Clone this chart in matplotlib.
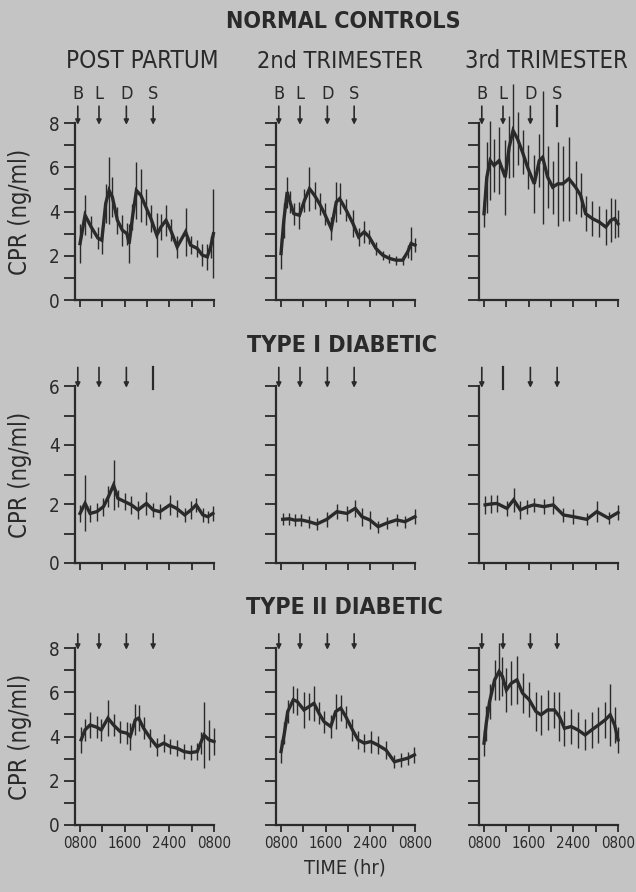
import numpy as np
import matplotlib
matplotlib.use('Agg')
import matplotlib.pyplot as plt
import matplotlib.font_manager as fm

# the original uses a condensed grotesque; take a condensed face if one is installed
FAMILY, STRETCH = 'Roboto', 'normal'
_cond = [f for f in fm.fontManager.ttflist
         if str(f.stretch) in ('condensed', 'semi-condensed', 'extra-condensed') and f.style == 'normal']
for _name in ['DejaVu Sans', 'Liberation Sans Narrow', 'Noto Sans', 'Open Sans', 'Roboto Condensed', 'Roboto']:
  _hit = [f for f in _cond if f.name == _name]
  if _hit:
    FAMILY, STRETCH = _name, str(_hit[0].stretch)
    break
plt.rcParams['font.family'] = [FAMILY, 'DejaVu Sans']
plt.rcParams['font.stretch'] = STRETCH

BG = '#c4c4c4'
INK = '#2a2a2a'

# ---- data: hours after 0800, mean CPR (ng/ml), error bar half-length ----
# normal controls
pp_hours = [0, 0.9, 2.0, 3.2, 3.9, 4.6, 5.2, 5.8, 6.7, 7.6, 8.4, 8.8, 9.4, 10.1, 10.9, 11.8, 12.7, 13.75, 14.5, 15.4, 16.25, 17.4, 18.9, 19.8, 21.0, 21.9, 22.8, 23.4, 23.9]
pp_mean = [2.55, 3.83, 3.3, 2.8, 2.7, 4.36, 4.95, 4.65, 3.6, 3.15, 3.0, 2.55, 3.75, 4.95, 4.73, 4.2, 3.68, 2.93, 3.3, 3.6, 3.15, 2.4, 3.08, 2.48, 2.33, 2.03, 1.95, 2.4, 3.0]
pp_sem = [0.9, 0.9, 0.5, 0.5, 0.6, 0.9, 1.5, 0.9, 0.6, 0.7, 0.5, 0.9, 0.6, 1.3, 1.2, 0.8, 0.6, 1.0, 0.6, 0.7, 0.5, 0.5, 1.1, 0.4, 0.4, 0.5, 0.6, 0.5, 2.0]

t2_hours = [0, 0.5, 1.1, 1.6, 2.3, 3.3, 4.2, 5.1, 6.0, 6.9, 7.8, 9.0, 9.9, 10.5, 11.7, 12.9, 13.9, 14.9, 15.8, 17.0, 18.2, 19.4, 20.6, 21.8, 22.7, 23.3, 24.0]
t2_mean = [2.1, 3.6, 4.88, 4.43, 3.9, 3.83, 4.5, 5.03, 4.73, 4.35, 3.9, 3.23, 4.43, 4.58, 4.05, 3.45, 2.85, 3.08, 2.85, 2.33, 2.03, 1.88, 1.8, 1.8, 2.18, 2.55, 2.48]
t2_sem = [0.7, 0.8, 0.7, 0.5, 0.5, 0.6, 0.5, 1.0, 0.6, 0.5, 0.5, 0.5, 0.9, 0.7, 0.5, 0.6, 0.4, 0.5, 0.3, 0.3, 0.2, 0.2, 0.2, 0.2, 0.3, 0.75, 0.3]

t3_hours = [0, 0.5, 1.1, 1.8, 2.7, 3.8, 4.5, 5.2, 6.0, 6.9, 7.8, 9.0, 9.9, 10.5, 11.4, 12.3, 13.2, 14.1, 15.2, 16.4, 17.3, 18.2, 19.4, 20.6, 21.8, 22.7, 23.4, 24.0]
t3_mean = [3.9, 5.55, 6.3, 6.08, 6.3, 5.55, 6.9, 7.66, 7.28, 6.68, 6.0, 5.25, 6.3, 6.45, 5.55, 5.1, 5.25, 5.25, 5.48, 5.1, 4.73, 3.9, 3.68, 3.53, 3.3, 3.6, 3.68, 3.45]
t3_sem = [0.6, 1.6, 1.8, 1.2, 1.5, 1.7, 1.4, 2.1, 1.2, 1.0, 1.0, 1.3, 1.2, 3.0, 1.4, 1.2, 1.9, 1.7, 1.9, 1.2, 1.0, 0.8, 0.8, 0.7, 0.8, 1.0, 0.9, 0.6]

# type I diabetic
d1pp_hours = [0, 0.9, 1.8, 3.0, 4.2, 5.1, 6.0, 6.8, 8.0, 9.2, 10.4, 11.9, 13.1, 14.3, 16.1, 17.3, 18.75, 19.9, 20.8, 22.0, 22.9, 23.8]
d1pp_mean = [1.68, 2.02, 1.68, 1.74, 1.91, 2.25, 2.64, 2.19, 2.08, 1.97, 1.8, 2.02, 1.8, 1.74, 1.97, 1.85, 1.63, 1.8, 1.97, 1.63, 1.57, 1.68]
d1pp_sem = [0.3, 0.95, 0.3, 0.3, 0.3, 0.35, 0.85, 0.3, 0.3, 0.3, 0.3, 0.4, 0.25, 0.25, 0.35, 0.3, 0.25, 0.3, 0.25, 0.25, 0.2, 0.25]

d1t2_hours = [0.3, 1.5, 2.5, 3.6, 5.0, 6.4, 8.2, 10.0, 11.8, 13.3, 14.5, 15.9, 17.4, 18.9, 20.7, 22.2, 24.0]
d1t2_mean = [1.48, 1.5, 1.45, 1.46, 1.4, 1.32, 1.48, 1.74, 1.68, 1.85, 1.57, 1.46, 1.23, 1.35, 1.46, 1.4, 1.57]
d1t2_sem = [0.2, 0.2, 0.2, 0.2, 0.2, 0.2, 0.25, 0.25, 0.25, 0.3, 0.3, 0.3, 0.2, 0.2, 0.2, 0.2, 0.25]

d1t3_hours = [0.2, 1.2, 2.3, 4.1, 5.3, 6.5, 7.7, 8.9, 10.7, 12.4, 14.2, 16.0, 18.4, 20.2, 22.3, 24.0]
d1t3_mean = [1.97, 2.0, 2.02, 1.85, 2.14, 1.8, 1.9, 1.97, 1.91, 1.97, 1.63, 1.57, 1.48, 1.74, 1.52, 1.71]
d1t3_sem = [0.3, 0.3, 0.3, 0.25, 0.4, 0.3, 0.25, 0.25, 0.25, 0.3, 0.25, 0.25, 0.2, 0.35, 0.2, 0.25]

# type II diabetic
d2pp_hours = [0.2, 0.9, 1.8, 3.0, 3.8, 5.0, 6.0, 7.2, 8.4, 9.0, 9.9, 10.5, 11.4, 12.6, 13.8, 15.0, 16.2, 17.4, 18.6, 19.8, 21.0, 21.6, 22.2, 23.1, 24.0]
d2pp_mean = [3.85, 4.3, 4.52, 4.42, 4.3, 4.83, 4.52, 4.22, 4.15, 4.0, 4.75, 4.83, 4.37, 3.92, 3.54, 3.7, 3.54, 3.47, 3.32, 3.27, 3.32, 3.7, 4.07, 3.85, 3.77]
d2pp_sem = [0.6, 0.5, 0.6, 0.5, 0.5, 0.8, 0.5, 0.5, 0.5, 0.6, 0.7, 0.6, 0.5, 0.4, 0.4, 0.4, 0.35, 0.35, 0.35, 0.35, 0.4, 0.5, 1.5, 0.9, 0.6]

d2t2_hours = [0, 0.6, 1.2, 2.2, 2.9, 4.1, 5.0, 5.9, 6.8, 7.7, 8.9, 9.8, 10.7, 11.6, 12.8, 13.8, 14.9, 16.1, 17.3, 18.8, 20.3, 21.5, 22.7, 23.9]
d2t2_mean = [3.32, 4.15, 5.13, 5.66, 5.58, 5.2, 5.35, 5.5, 5.05, 4.67, 4.45, 5.13, 5.28, 4.9, 4.3, 3.85, 3.7, 3.77, 3.62, 3.39, 2.86, 2.94, 3.02, 3.17]
d2t2_sem = [0.5, 0.5, 0.5, 0.6, 0.6, 0.8, 0.6, 0.8, 0.5, 0.5, 0.5, 0.8, 0.6, 0.5, 0.5, 0.4, 0.4, 0.5, 0.4, 0.4, 0.3, 0.3, 0.3, 0.35]

d2t3_hours = [0, 0.4, 1.0, 1.9, 2.7, 3.3, 4.0, 4.9, 5.9, 6.9, 8.1, 9.3, 10.2, 11.4, 12.6, 13.5, 14.4, 15.6, 16.8, 18.1, 19.3, 20.5, 21.7, 22.6, 23.4, 24.0]
d2t3_mean = [3.7, 4.6, 5.58, 6.56, 6.94, 6.71, 6.1, 6.41, 6.56, 5.96, 5.66, 5.13, 4.98, 5.2, 5.2, 4.9, 4.37, 4.45, 4.3, 4.07, 4.3, 4.52, 4.75, 4.98, 4.52, 3.85]
d2t3_sem = [0.6, 0.8, 0.8, 0.9, 1.3, 0.9, 1.0, 1.0, 1.1, 0.9, 0.8, 0.9, 0.9, 0.9, 0.8, 1.1, 0.8, 0.8, 0.8, 0.7, 0.8, 0.8, 0.8, 1.4, 0.8, 0.6]

meal_hours = [-0.4, 3.4, 8.3, 13.1]
meal_letters = ['B', 'L', 'D', 'S']
x_ticks = [0, 4, 8, 12, 16, 20, 24]
x_labels = ['0800', '', '1600', '', '2400', '', '0800']
row_ymax = [8, 6, 8]
col_titles = ['POST PARTUM', '2nd TRIMESTER', '3rd TRIMESTER']
group_titles = ['NORMAL CONTROLS', 'TYPE I DIABETIC', 'TYPE II DIABETIC']

panels = [
  [(pp_hours, pp_mean, pp_sem), (t2_hours, t2_mean, t2_sem), (t3_hours, t3_mean, t3_sem)],
  [(d1pp_hours, d1pp_mean, d1pp_sem), (d1t2_hours, d1t2_mean, d1t2_sem), (d1t3_hours, d1t3_mean, d1t3_sem)],
  [(d2pp_hours, d2pp_mean, d2pp_sem), (d2t2_hours, d2t2_mean, d2t2_sem), (d2t3_hours, d2t3_mean, d2t3_sem)],
]
# meal marks drawn as a plain bar instead of an arrow
plain_marks = {(0, 2): [3], (1, 0): [3], (1, 2): [1]}
arrow_top = [1.095, 1.105, 1.08]

W, H = 636, 892
col_left = [75, 276, 479]
row_bottom = [300, 563, 825]
ax_w, ax_h = 139, 177


def fx(x):
  return x / W


def fy(y):
  return 1 - y / H


fig = plt.figure(figsize=(W / 100, H / 100), dpi=100)
fig.patch.set_facecolor(BG)
renderer = fig.canvas.get_renderer()


def fit_text(x, y, s, width_px, size, **kw):
  # shrink a label until it is no wider than the original's
  t = fig.text(fx(x), fy(y), s, ha='center', va='center', fontsize=size, color=INK, **kw)
  w = t.get_window_extent(renderer).width
  if w > width_px:
    t.set_fontsize(size * width_px / w)
  return t


for r in range(3):
  ymax = row_ymax[r]
  for c in range(3):
    ax = fig.add_axes([fx(col_left[c]), fy(row_bottom[r]), ax_w / W, ax_h / H])
    ax.set_facecolor(BG)
    hours, mean, sem = panels[r][c]
    hours = np.array(hours)
    mean = np.array(mean)
    sem = np.array(sem)
    ax.vlines(hours, mean - sem, mean + sem, color=INK, lw=1.0, clip_on=False)
    ax.plot(hours, mean, color=INK, lw=2.4, clip_on=False, solid_joinstyle='miter')
    ax.set_xlim(-0.9, 24)
    ax.set_ylim(0, ymax)
    for s in ['top', 'right']:
      ax.spines[s].set_visible(False)
    for s in ['left', 'bottom']:
      ax.spines[s].set_color(INK)
      ax.spines[s].set_linewidth(1.6)
    ax.set_yticks(range(0, ymax + 1))
    if c == 0:
      ax.set_yticklabels([str(v) if v % 2 == 0 else '' for v in range(0, ymax + 1)], fontsize=13.5)
    else:
      ax.set_yticklabels([])
    ax.set_xticks(x_ticks)
    if r == 2:
      ax.set_xticklabels(x_labels, fontsize=12)
      for lab in ax.get_xticklabels():
        w = lab.get_window_extent(renderer).width
        if w > 34:
          lab.set_fontsize(12 * 34 / w)
    else:
      ax.set_xticklabels([])
    ax.tick_params(axis='y', direction='out', length=8, width=1.3, color=INK, labelcolor=INK, pad=3)
    ax.tick_params(axis='x', direction='out', length=5, width=1.3, color=INK, labelcolor=INK, pad=3)

    # meal arrows
    top = ymax * arrow_top[r]
    for i, mh in enumerate(meal_hours):
      if i in plain_marks.get((r, c), []):
        ax.plot([mh, mh], [top, ymax * 0.985], color=INK, lw=1.6, clip_on=False)
      else:
        ax.annotate('', xy=(mh, ymax * 0.99), xytext=(mh, top), annotation_clip=False,
                    arrowprops=dict(arrowstyle='-|>', color=INK, lw=1.2, mutation_scale=7,
                                    shrinkA=0, shrinkB=0))
      if r == 0:
        ax.text(mh, ymax * 1.165, meal_letters[i], ha='center', va='center', fontsize=13, color=INK)

  fit_text(20, row_bottom[r] - ax_h / 2, 'CPR (ng/ml)', 130, 17, rotation=90)

fit_text(343, 22, group_titles[0], 234, 19, fontweight='bold')
fit_text(342, 345, group_titles[1], 190, 19, fontweight='bold')
fit_text(344, 607, group_titles[2], 197, 19, fontweight='bold')
for c, (cx, cw) in enumerate([(142, 156), (340, 166), (546, 162)]):
  fit_text(cx, 61, col_titles[c], cw, 17.5)
fit_text(345, 868, 'TIME (hr)', 82, 17)

fig.savefig('out.png', dpi=100, facecolor=BG)
